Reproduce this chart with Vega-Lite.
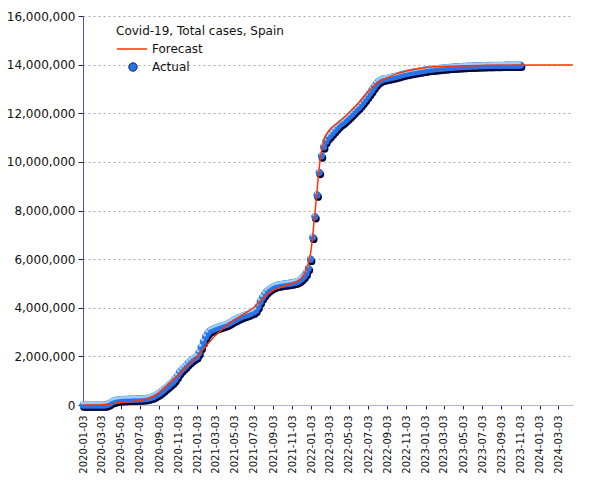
{
  "$schema": "https://vega.github.io/schema/vega-lite/v6.json",
  "width": 490,
  "height": 389,
  "autosize": {"type": "none"},
  "padding": {"left": 83, "top": 16, "right": 32, "bottom": 75},
  "background": "white",
  "config": {"font": "DejaVu Sans", "view": {"stroke": null}},
  "datasets": {
    "actual": [
      {"d":"2020-01-03","v":0},{"d":"2020-01-10","v":0},{"d":"2020-01-17","v":0},{"d":"2020-01-24","v":0},{"d":"2020-01-31","v":1},
      {"d":"2020-02-07","v":1},{"d":"2020-02-14","v":2},{"d":"2020-02-21","v":2},{"d":"2020-02-28","v":32},{"d":"2020-03-06","v":400},
      {"d":"2020-03-13","v":5000},{"d":"2020-03-20","v":25000},{"d":"2020-03-27","v":65000},{"d":"2020-04-03","v":120000},{"d":"2020-04-10","v":158000},
      {"d":"2020-04-17","v":190000},{"d":"2020-04-24","v":210000},{"d":"2020-05-01","v":216000},{"d":"2020-05-08","v":222000},{"d":"2020-05-15","v":230000},
      {"d":"2020-05-22","v":234000},{"d":"2020-05-29","v":238000},{"d":"2020-06-05","v":241000},{"d":"2020-06-12","v":243000},{"d":"2020-06-19","v":246000},
      {"d":"2020-06-26","v":248000},{"d":"2020-07-03","v":251000},{"d":"2020-07-10","v":254000},{"d":"2020-07-17","v":260000},{"d":"2020-07-24","v":272000},
      {"d":"2020-07-31","v":288000},{"d":"2020-08-07","v":314000},{"d":"2020-08-14","v":342000},{"d":"2020-08-21","v":386000},{"d":"2020-08-28","v":440000},
      {"d":"2020-09-04","v":498000},{"d":"2020-09-11","v":566000},{"d":"2020-09-18","v":640000},{"d":"2020-09-25","v":716000},{"d":"2020-10-02","v":790000},
      {"d":"2020-10-09","v":870000},{"d":"2020-10-16","v":950000},{"d":"2020-10-23","v":1050000},{"d":"2020-10-30","v":1180000},{"d":"2020-11-06","v":1330000},
      {"d":"2020-11-13","v":1440000},{"d":"2020-11-20","v":1530000},{"d":"2020-11-27","v":1610000},{"d":"2020-12-04","v":1720000},{"d":"2020-12-11","v":1800000},
      {"d":"2020-12-18","v":1880000},{"d":"2020-12-25","v":1940000},{"d":"2021-01-01","v":2000000},{"d":"2021-01-08","v":2150000},{"d":"2021-01-15","v":2380000},
      {"d":"2021-01-22","v":2600000},{"d":"2021-01-29","v":2800000},{"d":"2021-02-05","v":2950000},{"d":"2021-02-12","v":3050000},{"d":"2021-02-19","v":3100000},
      {"d":"2021-02-26","v":3140000},{"d":"2021-03-05","v":3180000},{"d":"2021-03-12","v":3210000},{"d":"2021-03-19","v":3240000},{"d":"2021-03-26","v":3270000},
      {"d":"2021-04-02","v":3300000},{"d":"2021-04-09","v":3330000},{"d":"2021-04-16","v":3380000},{"d":"2021-04-23","v":3430000},{"d":"2021-04-30","v":3490000},
      {"d":"2021-05-07","v":3530000},{"d":"2021-05-14","v":3580000},{"d":"2021-05-21","v":3620000},{"d":"2021-05-28","v":3660000},{"d":"2021-06-04","v":3690000},
      {"d":"2021-06-11","v":3720000},{"d":"2021-06-18","v":3750000},{"d":"2021-06-25","v":3790000},{"d":"2021-07-02","v":3830000},{"d":"2021-07-09","v":3900000},
      {"d":"2021-07-16","v":4050000},{"d":"2021-07-23","v":4250000},{"d":"2021-07-30","v":4420000},{"d":"2021-08-06","v":4560000},{"d":"2021-08-13","v":4670000},
      {"d":"2021-08-20","v":4750000},{"d":"2021-08-27","v":4810000},{"d":"2021-09-03","v":4860000},{"d":"2021-09-10","v":4900000},{"d":"2021-09-17","v":4930000},
      {"d":"2021-09-24","v":4950000},{"d":"2021-10-01","v":4965000},{"d":"2021-10-08","v":4980000},{"d":"2021-10-15","v":4990000},{"d":"2021-10-22","v":5000000},
      {"d":"2021-10-29","v":5020000},{"d":"2021-11-05","v":5030000},{"d":"2021-11-12","v":5050000},{"d":"2021-11-19","v":5080000},{"d":"2021-11-26","v":5130000},
      {"d":"2021-12-03","v":5200000},{"d":"2021-12-10","v":5300000},{"d":"2021-12-17","v":5420000},{"d":"2021-12-24","v":5620000},{"d":"2021-12-31","v":6000000},
      {"d":"2022-01-07","v":6900000},{"d":"2022-01-14","v":7750000},{"d":"2022-01-21","v":8640000},{"d":"2022-01-28","v":9570000},{"d":"2022-02-04","v":10250000},
      {"d":"2022-02-11","v":10620000},{"d":"2022-02-18","v":10850000},{"d":"2022-02-25","v":11000000},{"d":"2022-03-04","v":11100000},{"d":"2022-03-11","v":11200000},
      {"d":"2022-03-18","v":11300000},{"d":"2022-03-25","v":11400000},{"d":"2022-04-01","v":11500000},{"d":"2022-04-08","v":11580000},{"d":"2022-04-15","v":11640000},
      {"d":"2022-04-22","v":11720000},{"d":"2022-04-29","v":11800000},{"d":"2022-05-06","v":11890000},{"d":"2022-05-13","v":11980000},{"d":"2022-05-20","v":12070000},
      {"d":"2022-05-27","v":12160000},{"d":"2022-06-03","v":12250000},{"d":"2022-06-10","v":12350000},{"d":"2022-06-17","v":12460000},{"d":"2022-06-24","v":12580000},
      {"d":"2022-07-01","v":12700000},{"d":"2022-07-08","v":12820000},{"d":"2022-07-15","v":12950000},{"d":"2022-07-22","v":13080000},{"d":"2022-07-29","v":13200000},
      {"d":"2022-08-05","v":13300000},{"d":"2022-08-12","v":13360000},{"d":"2022-08-19","v":13400000},{"d":"2022-08-26","v":13420000},{"d":"2022-09-02","v":13440000},
      {"d":"2022-09-09","v":13460000},{"d":"2022-09-16","v":13480000},{"d":"2022-09-23","v":13500000},{"d":"2022-09-30","v":13520000},{"d":"2022-10-07","v":13545000},
      {"d":"2022-10-14","v":13570000},{"d":"2022-10-21","v":13595000},{"d":"2022-10-28","v":13620000},{"d":"2022-11-04","v":13640000},{"d":"2022-11-11","v":13660000},
      {"d":"2022-11-18","v":13680000},{"d":"2022-11-25","v":13695000},{"d":"2022-12-02","v":13710000},{"d":"2022-12-09","v":13725000},{"d":"2022-12-16","v":13740000},
      {"d":"2022-12-23","v":13755000},{"d":"2022-12-30","v":13770000},{"d":"2023-01-06","v":13785000},{"d":"2023-01-13","v":13800000},{"d":"2023-01-20","v":13810000},
      {"d":"2023-01-27","v":13820000},{"d":"2023-02-03","v":13830000},{"d":"2023-02-10","v":13840000},{"d":"2023-02-17","v":13850000},{"d":"2023-02-24","v":13860000},
      {"d":"2023-03-03","v":13868000},{"d":"2023-03-10","v":13876000},{"d":"2023-03-17","v":13884000},{"d":"2023-03-24","v":13892000},{"d":"2023-03-31","v":13898000},
      {"d":"2023-04-07","v":13904000},{"d":"2023-04-14","v":13910000},{"d":"2023-04-21","v":13915000},{"d":"2023-04-28","v":13920000},{"d":"2023-05-05","v":13925000},
      {"d":"2023-05-12","v":13930000},{"d":"2023-05-19","v":13935000},{"d":"2023-05-26","v":13940000},{"d":"2023-06-02","v":13944000},{"d":"2023-06-09","v":13948000},
      {"d":"2023-06-16","v":13952000},{"d":"2023-06-23","v":13955000},{"d":"2023-06-30","v":13958000},{"d":"2023-07-07","v":13961000},{"d":"2023-07-14","v":13963000},
      {"d":"2023-07-21","v":13965000},{"d":"2023-07-28","v":13967000},{"d":"2023-08-04","v":13969000},{"d":"2023-08-11","v":13971000},{"d":"2023-08-18","v":13972000},
      {"d":"2023-08-25","v":13973000},{"d":"2023-09-01","v":13974000},{"d":"2023-09-08","v":13975000},{"d":"2023-09-15","v":13976000},{"d":"2023-09-22","v":13977000},
      {"d":"2023-09-29","v":13978000},{"d":"2023-10-06","v":13979000},{"d":"2023-10-13","v":13980000},{"d":"2023-10-20","v":13981000},{"d":"2023-10-27","v":13982000},
      {"d":"2023-11-03","v":13983000}
    ],
    "forecast": [
      {"d":"2020-01-03","v":0},{"d":"2020-02-01","v":3000},{"d":"2020-03-01","v":15000},{"d":"2020-04-01","v":50000},{"d":"2020-05-01","v":100000},
      {"d":"2020-06-01","v":135000},{"d":"2020-07-01","v":180000},{"d":"2020-08-01","v":280000},{"d":"2020-09-01","v":500000},{"d":"2020-10-01","v":850000},
      {"d":"2020-11-01","v":1220000},{"d":"2020-12-01","v":1600000},{"d":"2021-01-01","v":1980000},{"d":"2021-02-01","v":2450000},{"d":"2021-03-01","v":2850000},
      {"d":"2021-04-01","v":3200000},{"d":"2021-05-01","v":3500000},{"d":"2021-06-01","v":3750000},{"d":"2021-07-01","v":4000000},{"d":"2021-08-01","v":4400000},
      {"d":"2021-09-01","v":4700000},{"d":"2021-10-01","v":4870000},{"d":"2021-11-01","v":5000000},{"d":"2021-12-01","v":5200000},{"d":"2021-12-15","v":5500000},
      {"d":"2022-01-01","v":6300000},{"d":"2022-01-15","v":8000000},{"d":"2022-02-01","v":10200000},{"d":"2022-02-15","v":11000000},{"d":"2022-03-01","v":11300000},
      {"d":"2022-04-01","v":11650000},{"d":"2022-05-01","v":12000000},{"d":"2022-06-01","v":12400000},{"d":"2022-07-01","v":12850000},{"d":"2022-08-01","v":13250000},
      {"d":"2022-09-01","v":13450000},{"d":"2022-10-01","v":13620000},{"d":"2022-11-01","v":13730000},{"d":"2022-12-01","v":13810000},{"d":"2023-01-01","v":13870000},
      {"d":"2023-03-01","v":13925000},{"d":"2023-05-01","v":13955000},{"d":"2023-07-01","v":13968000},{"d":"2023-09-01","v":13975000},{"d":"2024-01-01","v":13980000},
      {"d":"2024-04-19","v":13981000}
    ]
  },
  "encoding": {
    "x": {
      "field": "d", "type": "temporal",
      "scale": {"type": "utc", "domain": [{"year": 2020, "month": 1, "date": 3, "utc": true}, {"year": 2024, "month": 4, "date": 19, "utc": true}]},
      "axis": {
        "title": null, "grid": false,
        "values": [
          {"year":2020,"month":1,"date":3,"utc":true},{"year":2020,"month":3,"date":3,"utc":true},{"year":2020,"month":5,"date":3,"utc":true},
          {"year":2020,"month":7,"date":3,"utc":true},{"year":2020,"month":9,"date":3,"utc":true},{"year":2020,"month":11,"date":3,"utc":true},
          {"year":2021,"month":1,"date":3,"utc":true},{"year":2021,"month":3,"date":3,"utc":true},{"year":2021,"month":5,"date":3,"utc":true},
          {"year":2021,"month":7,"date":3,"utc":true},{"year":2021,"month":9,"date":3,"utc":true},{"year":2021,"month":11,"date":3,"utc":true},
          {"year":2022,"month":1,"date":3,"utc":true},{"year":2022,"month":3,"date":3,"utc":true},{"year":2022,"month":5,"date":3,"utc":true},
          {"year":2022,"month":7,"date":3,"utc":true},{"year":2022,"month":9,"date":3,"utc":true},{"year":2022,"month":11,"date":3,"utc":true},
          {"year":2023,"month":1,"date":3,"utc":true},{"year":2023,"month":3,"date":3,"utc":true},{"year":2023,"month":5,"date":3,"utc":true},
          {"year":2023,"month":7,"date":3,"utc":true},{"year":2023,"month":9,"date":3,"utc":true},{"year":2023,"month":11,"date":3,"utc":true},
          {"year":2024,"month":1,"date":3,"utc":true},{"year":2024,"month":3,"date":3,"utc":true}
        ],
        "labelExpr": "utcFormat(datum.value, '%Y-%m-%d')",
        "labelAngle": 270, "labelFontSize": 10, "labelColor": "#111111",
        "labelPadding": 6, "labelOverlap": false, "labelFlush": false, "labelBound": false,
        "tickSize": 4, "tickColor": "#1a2266", "domainColor": "#b3bad4", "domainWidth": 1
      }
    },
    "y": {
      "field": "v", "type": "quantitative",
      "scale": {"domain": [0, 16000000], "nice": false},
      "axis": {
        "title": null,
        "values": [0, 2000000, 4000000, 6000000, 8000000, 10000000, 12000000, 14000000, 16000000],
        "format": ",d", "labelFontSize": 12, "labelColor": "#111111", "labelPadding": 3,
        "tickSize": 5, "tickColor": "#1a2266", "domainColor": "#4b5a8c",
        "gridColor": "#aaaaaa", "gridDash": [2, 3], "gridWidth": 1
      }
    }
  },
  "layer": [
    {
      "data": {"name": "actual"},
      "mark": {"type": "point", "filled": true, "size": 60, "color": "#00093a", "opacity": 1, "xOffset": 1, "yOffset": 2}
    },
    {
      "data": {"name": "actual"},
      "mark": {"type": "point", "filled": true, "size": 52, "opacity": 1},
      "encoding": {
        "fill": {
          "datum": "Actual",
          "scale": {"domain": ["Actual"], "range": ["#2a74e6"]},
          "legend": {
            "orient": "none", "legendX": 44, "legendY": 45, "padding": 0, "title": null,
            "labelFontSize": 12, "labelColor": "#111111", "labelOffset": 13,
            "symbolType": "circle", "symbolSize": 70, "symbolStrokeColor": "#0a1f70", "symbolStrokeWidth": 1
          }
        }
      }
    },
    {
      "data": {"name": "actual"},
      "mark": {"type": "point", "filled": true, "size": 9, "color": "#9fd0ff", "opacity": 1, "xOffset": -1, "yOffset": -2}
    },
    {
      "data": {"name": "forecast"},
      "mark": {"type": "line", "interpolate": "monotone", "strokeWidth": 1.5},
      "encoding": {
        "stroke": {
          "datum": "Forecast",
          "scale": {"domain": ["Forecast"], "range": ["#ff3300"]},
          "legend": {
            "orient": "none", "legendX": 33, "legendY": 10, "padding": 0,
            "title": "Covid-19, Total cases, Spain", "titleFontSize": 12, "titleFontWeight": "normal", "titleColor": "#111111",
            "titlePadding": -5, "labelFontSize": 12, "labelColor": "#111111", "labelOffset": 4,
            "symbolType": "stroke", "symbolSize": 900, "symbolStrokeWidth": 1.5
          }
        }
      }
    }
  ]
}
